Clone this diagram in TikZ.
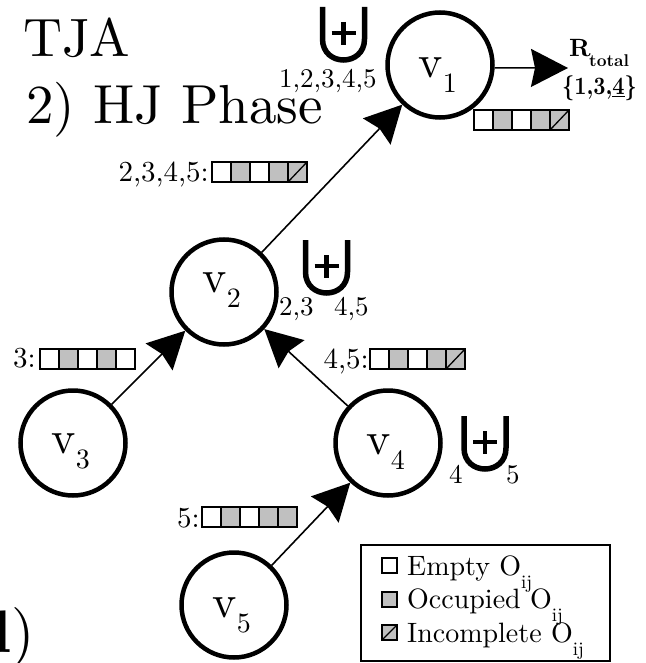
\documentclass[tikz,border=0pt]{standalone}
\usetikzlibrary{arrows.meta,calc}
\definecolor{cgray}{RGB}{192,192,192}
\newcommand\lmr[1]{\font\lmrf="[lmroman10-regular]:mapping=tex-text" at #1pt\lmrf}
\newcommand\lmb[1]{\font\lmbf="[lmroman10-bold]:mapping=tex-text" at #1pt\lmbf}
\newcommand\vlab[1]{{\lmr{46}v}\kern0.5pt\raisebox{-15pt}{\lmr{28}#1}}
\newcommand\cellrow[3]{\foreach \cc/\dg [count=\ci from 0] in {#3} {%
  \draw[cell,fill=\cc] ({#1+19*\ci},{#2}) rectangle ++(19,20);
  \ifnum\dg=1 \draw[cell] ({#1+19*\ci},{#2+20}) -- ++(19,-20);\fi}}
\tikzset{uplus/.pic={
  \draw[line width=5.5pt] (-21,-28) -- (-21,4) .. controls (-21,32) and (21,32) .. (21,4) -- (21,-28);
  \draw[line width=4.5pt] (-12,-2) -- (12,-2) (0,-13) -- (0,10);}}
\begin{document}
\begin{tikzpicture}[x=1pt,y=-1pt,
  vert/.style={circle,draw,line width=4.5pt,minimum size=105pt,inner sep=0pt},
  conn/.style={line width=1.6pt,-{Stealth[length=37pt,width=38pt,inset=4pt]}},
  txt/.style={inner sep=0pt,anchor=base west},
  txte/.style={inner sep=0pt,anchor=base east},
  cell/.style={line width=1.3pt,draw=black}]
\fill[white] (0,0) rectangle (645,663);
\useasboundingbox (0,0) rectangle (645,663);
% titles
\node[txt] (t1) at (23,57) {\lmr{54}TJA};
\node[txt] (t2) at (26,124) {\lmr{55}2) HJ Phase};
\node[txt] (frag) at (-8,652) {\lmb{60}l\lmr{60})};
% vertices
\node[vert] (v1) at (440,65) {};
\node[vert] (v2) at (224,292) {};
\node[vert] (v3) at (73,443) {};
\node[vert] (v4) at (388,443) {};
\node[vert] (v5) at (234,605) {};
\node[txt] (l1) at ($(v1)+(-22,13)$) {\vlab{1}};
\node[txt] (l2) at ($(v2)+(-22,0)$) {\vlab{2}};
\node[txt] (l3) at ($(v3)+(-22,10)$) {\vlab{3}};
\node[txt] (l4) at ($(v4)+(-22,11)$) {\vlab{4}};
\node[txt] (l5) at ($(v5)+(-22,12)$) {\vlab{5}};
% connectors
\draw[conn] (v2) -- (v1);
\draw[conn] (v3) -- (v2);
\draw[conn] (v4) -- (v2);
\draw[conn] (v5) -- (v4);
\coordinate (rt) at (568,68);
\draw[conn] (v1.-3) -- (rt);
% result
\node[txt] (rR) at (569,57) {\lmb{25}R};
\node[txt] (rsub) at (589,67) {\lmb{17}total};
\node[txt] (rset) at (562,95) {\scalebox{0.85}[1]{\lmb{25}\{1,3,\underline{4}\}}};
% union symbols
\pic (u1) at (343.5,35) {uplus};
\pic (u2) at (326.5,268) {uplus};
\pic (u3) at (485,444) {uplus};
\node[txt] (s1) at (279,88) {\lmr{27}1,2,3,4,5};
\node[txt] (s2a) at (279,315) {\lmr{27}2,3};
\node[txt] (s2b) at (334,315) {\lmr{27}4,5};
\node[txt] (s3a) at (449,483) {\lmr{27}4};
\node[txt] (s3b) at (506,483) {\lmr{27}5};
% arrays
\cellrow{474}{110}{white/0,cgray/0,white/0,cgray/0,cgray/1}
\node[txte] (a2l) at (209,181) {\lmr{29}2,3,4,5:};
\cellrow{212}{162}{white/0,cgray/0,white/0,cgray/0,cgray/1}
\node[txte] (a3l) at (36,367) {\lmr{29}3:};
\cellrow{40}{349}{white/0,cgray/0,white/0,cgray/0,white/0}
\node[txte] (a4l) at (369,368) {\lmr{29}4,5:};
\cellrow{370}{349}{white/0,cgray/0,white/0,cgray/0,cgray/1}
\node[txte] (a5l) at (200,527) {\lmr{29}5:};
\cellrow{202}{507}{white/0,cgray/0,white/0,cgray/0,cgray/0}
% legend
\draw[line width=1.5pt] (361,545) rectangle (610,661);
\draw[cell,fill=white] (382,558) rectangle ++(15,15);
\draw[cell,fill=cgray] (382,592) rectangle ++(15,15);
\draw[cell,fill=cgray] (382,625) rectangle ++(15,15);
\draw[cell] (382,640) -- ++(15,-15);
\node[txt] (le1) at (407,575) {\lmr{28}Empty O\raisebox{-13pt}{\lmr{19}ij}};
\node[txt] (le2) at (407,608) {\lmr{28}Occupied O\raisebox{-13pt}{\lmr{19}ij}};
\node[txt] (le3) at (407,642) {\lmr{28}Incomplete O\raisebox{-13pt}{\lmr{19}ij}};
\end{tikzpicture}
\end{document}
